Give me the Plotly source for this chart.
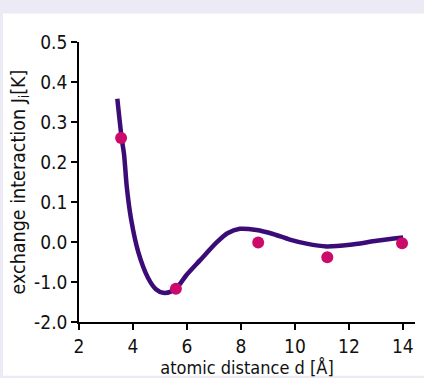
import plotly.graph_objects as go

# Theoretical curve
curve_x = [3.42, 3.58, 3.67, 3.77, 3.93, 4.20, 4.56, 4.85, 5.12, 5.40, 5.70, 5.99, 6.48, 7.10, 7.50, 7.96, 8.58, 9.19, 9.81, 10.43, 11.17, 12.04, 13.03, 14.01]
curve_y = [0.358, 0.260, 0.219, 0.138, 0.057, -0.026, -0.090, -0.118, -0.127, -0.124, -0.108, -0.082, -0.046, -0.001, 0.022, 0.033, 0.030, 0.020, 0.006, -0.004, -0.011, -0.007, 0.003, 0.011]

# Measured points
pts_x = [3.56, 5.59, 8.64, 11.20, 13.97]
pts_y = [0.260, -0.117, -0.001, -0.038, -0.003]

ytick_vals = [0.5, 0.4, 0.3, 0.2, 0.1, 0.0, -0.1, -0.2]
ytick_text = ["0.5", "0.4", "0.3", "0.2", "0.1", "0.0", "-1.0", "-2.0"]
xtick_vals = [2, 4, 6, 8, 10, 12, 14]

W, H = 424, 378
L, R, T, B = 79, 9, 42, 50
FONT = "DejaVu Sans Condensed, Liberation Sans Narrow, sans-serif"

fig = go.Figure()
fig.add_trace(go.Scatter(x=curve_x, y=curve_y, mode="lines",
                         line=dict(color="#3b0c78", width=4.5, shape="spline", smoothing=0.7),
                         hoverinfo="skip"))
fig.add_trace(go.Scatter(x=pts_x, y=pts_y, mode="markers",
                         marker=dict(color="#cc0a6c", size=12, line=dict(width=0))))

pw = W - L - R
ph = H - T - B
def px2paper_x(px):
    return (px - L) / pw
def py2paper_y(py):
    return (H - B - py) / ph

fig.add_shape(type="rect", xref="paper", yref="paper", layer="below",
              x0=px2paper_x(3), x1=px2paper_x(W + 5), y0=py2paper_y(H + 5), y1=py2paper_y(13),
              fillcolor="white", line=dict(width=0))

axis_common = dict(showgrid=False, zeroline=False, showline=True, linecolor="black", linewidth=1.5,
                   ticks="outside", ticklen=6, tickwidth=1.5, tickcolor="black",
                   tickfont=dict(family=FONT, size=19, color="#111"))

fig.update_layout(
    width=W, height=H,
    margin=dict(l=L, r=R, t=T, b=B),
    paper_bgcolor="#eceaf5",
    plot_bgcolor="rgba(0,0,0,0)",
    showlegend=False,
    xaxis=dict(range=[2, 14.45], tickvals=xtick_vals, **axis_common,
               title=dict(text="atomic distance d [Å]", font=dict(family=FONT, size=18, color="#111"), standoff=0)),
    yaxis=dict(range=[-0.2, 0.5], tickvals=ytick_vals, ticktext=ytick_text, **axis_common,
               title=dict(text="exchange interaction J<sub>i</sub>[K]", font=dict(family=FONT, size=19.5, color="#111"), standoff=3)),
)

fig.write_html("out.html")
